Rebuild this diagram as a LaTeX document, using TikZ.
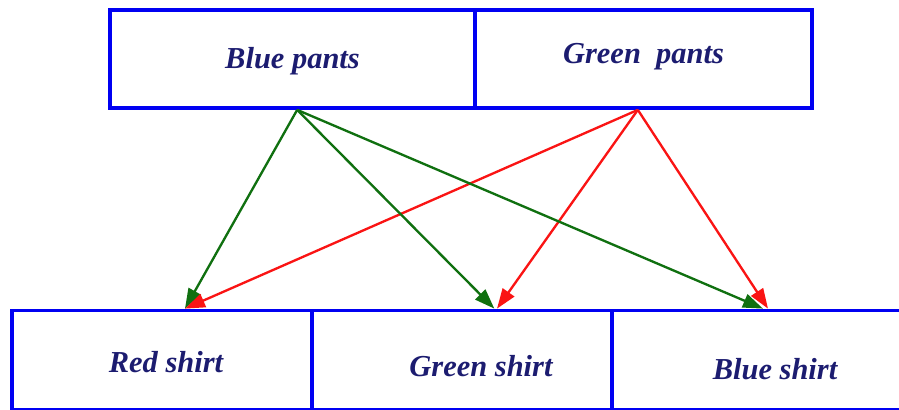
\documentclass[tikz,border=0pt]{standalone}
\usepackage{fontspec}
\setmainfont{Liberation Serif}
\usetikzlibrary{arrows.meta}
\begin{document}
\begin{tikzpicture}[x=0.03cm, y=-0.03cm, font=\bfseries\itshape\fontsize{26}{30}\selectfont,
    box/.style={draw=boxblue, line width=3.2pt, inner sep=0pt, minimum width=#1*0.03cm},
    lbl/.style={text=labelnavy, inner sep=0pt},
    link/.style={draw=#1, line width=2pt, -{Triangle[length=0.6cm, width=0.42cm]}}]
  \colorlet{boxblue}{blue!95!black}
  \definecolor{labelnavy}{RGB}{28,28,112}
  \definecolor{arrowgreen}{RGB}{16,112,16}
  \definecolor{arrowred}{RGB}{250,20,20}
  \useasboundingbox (0,0) rectangle (899,409);
  % ---- pants (top row) -----------------------------------------------------
  \node[box=365, minimum height=2.94cm, label={[lbl, yshift=-0.06cm]center:Blue pants}] (bluepants) at (292.5, 59) {};
  \node[box=337, minimum height=2.94cm, label={[lbl, yshift=0.06cm]center:Green\ \ pants}] (greenpants) at (643.5, 59) {};
  % ---- shirts (bottom row) -------------------------------------------------
  \foreach \x/\n/\t/\dx/\dy in {162/redshirt/Red shirt/0.12/-0.05, 462/greenshirt/Green shirt/0.57/-0.18,
      762/blueshirt/Blue shirt/0.39/-0.27} {
    \node[box=300, minimum height=2.97cm, label={[lbl, xshift=\dx cm, yshift=\dy cm]center:\t}] (\n) at (\x, 360) {};}
  % ---- end points on the box borders ---------------------------------------
  \coordinate (bp-out) at ([xshift=0.14cm]bluepants.south);
  \coordinate (gp-out) at ([xshift=-0.17cm]greenpants.south);
  \foreach \n/\g/\r in {redshirt/0.69/0.69, greenshirt/0.97/1.05, blueshirt/0.03/0.18} {
    \coordinate (\n-g) at ([xshift=\g cm]\n.north);
    \coordinate (\n-r) at ([xshift=\r cm]\n.north);}
  % ---- links ---------------------------------------------------------------
  \foreach \n in {redshirt, greenshirt, blueshirt} {
    \draw[link=arrowgreen] (bp-out) -- (\n-g);
    \draw[link=arrowred] (gp-out) -- (\n-r);}
\end{tikzpicture}
\end{document}
